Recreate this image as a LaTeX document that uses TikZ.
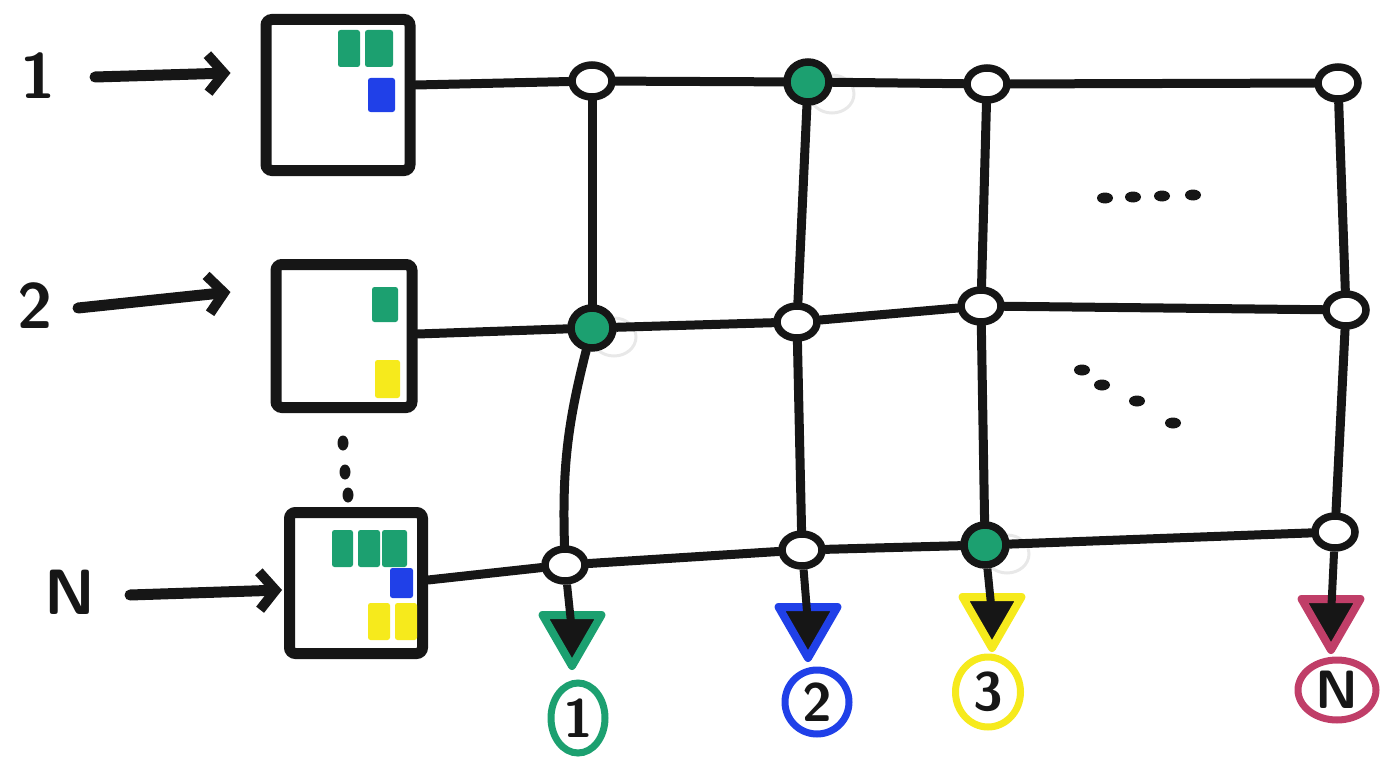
\documentclass[tikz,border=0pt]{standalone}
\usetikzlibrary{shapes.geometric,arrows.meta}
\definecolor{mkgreen}{RGB}{28,160,112}
\definecolor{mkblue}{RGB}{32,64,232}
\definecolor{mkyellow}{RGB}{246,234,28}
\definecolor{mkpink}{RGB}{192,62,104}
\definecolor{ink}{RGB}{22,22,22}
\begin{document}
\begin{tikzpicture}[x=1pt,y=-1pt,
  wire/.style={draw=ink, line width=9pt, line cap=round, line join=round},
  queue/.style={draw=ink, line width=11pt, rounded corners=6pt, fill=white, inner sep=0pt},
  xpt/.style={ellipse, draw=ink, line width=7.5pt, minimum width=40pt, minimum height=32pt, inner sep=0pt, fill=white},
  xon/.style={xpt, fill=mkgreen, minimum width=42pt, minimum height=40pt},
  halo/.style={ellipse, draw=black!9, line width=3pt, minimum width=44pt, minimum height=38pt},
  cell/.style={rounded corners=2.5pt},
  outtri/.style={regular polygon, regular polygon sides=3, shape border rotate=180, draw=#1, fill=ink, line width=8pt, line join=round, minimum size=68pt, inner sep=0pt},
  outnum/.style={ellipse, draw=#1, line width=7pt, inner sep=0pt, text=ink, font=\fontsize{54}{54}\selectfont\sffamily\bfseries},
  inlabel/.style={text=ink, font=\fontsize{64}{64}\selectfont\sffamily\bfseries},
  feed/.style={draw=ink, line width=11pt, line cap=round, -{Straight Barb[length=16pt,width=38pt,line width=10pt]}},
  stem/.style={draw=ink, line width=8pt},
  gapdot/.style={ellipse, fill=ink, minimum width=16pt, minimum height=11pt, inner sep=0pt}
]
\useasboundingbox (0,0) rectangle (1385,760);

% input queues
\node[queue, minimum width=144pt, minimum height=151pt] (box1) at (338,95) {};
\node[queue, minimum width=136pt, minimum height=143pt] (box2) at (344,336) {};
\node[queue, minimum width=133pt, minimum height=141pt] (boxN) at (356,583) {};

% queued packets
\fill[cell, mkgreen] (338,30) rectangle (360,67);
\fill[cell, mkgreen] (365,30) rectangle (393,67);
\fill[cell, mkblue] (368,78) rectangle (395,112);
\fill[cell, mkgreen] (372,287) rectangle (398,322);
\fill[cell, mkyellow] (375,360) rectangle (400,398);
\fill[cell, mkgreen] (332,530) rectangle (353,567);
\fill[cell, mkgreen] (358,530) rectangle (380,567);
\fill[cell, mkgreen] (382,530) rectangle (407,567);
\fill[cell, mkblue] (390,568) rectangle (413,598);
\fill[cell, mkyellow] (368,603) rectangle (390,640);
\fill[cell, mkyellow] (395,603) rectangle (417,640);

% input labels
\node[inlabel] (l1) at (38,76) {1};
\node[inlabel] (l2) at (35,306) {2};
\node[inlabel] (lN) at (70,592) {N};
\coordinate (a1) at (95,77);
\coordinate (a2) at (78,308);
\coordinate (aN) at (130,595);
\draw[feed] (a1) -- ([xshift=-30pt, yshift=22pt]box1.west);
\draw[feed] (a2) -- ([xshift=-40pt, yshift=44pt]box2.west);
\draw[feed] (aN) -- ([xshift=-2pt, yshift=-7pt]boxN.west);

% vertical ellipsis between queues
\node[gapdot, minimum width=11pt, minimum height=15pt] (v1) at (343,443) {};
\node[gapdot, minimum width=11pt, minimum height=15pt] (v2) at (345,472) {};
\node[gapdot, minimum width=11pt, minimum height=15pt] (v3) at (348,495) {};

% faint halos around active crosspoints
\node[halo] (h12) at (832,94) {};
\node[halo] (h21) at (614,337) {};
\node[halo] (h33) at (1007,554) {};

% crosspoints
\node[xpt] (c11) at (592,81) {};
\node[xon] (c12) at (808,82) {};
\node[xpt] (c13) at (987,84) {};
\node[xpt] (c1n) at (1338,83) {};
\node[xon] (c21) at (592,328) {};
\node[xpt] (c22) at (797,322) {};
\node[xpt] (c23) at (981,306) {};
\node[xpt] (c2n) at (1346,310) {};
\node[xpt] (c31) at (565,565) {};
\node[xpt] (c32) at (802,550) {};
\node[xon] (c33) at (985,545) {};
\node[xpt] (c3n) at (1335,532) {};

% rows
\draw[wire] ([yshift=10pt]box1.east) -- (c11) -- (c12) -- (c13) -- (c1n);
\draw[wire] ([yshift=2pt]box2.east) -- (c21) -- (c22) -- (c23) -- (c2n);
\draw[wire] ([yshift=3pt]boxN.east) -- (c31) -- (c32) -- (c33) -- (c3n);

% columns
\draw[wire] (c11) -- (c21);
\draw[wire] (c21) to[bend right=8] (c31);
\draw[wire] (c12) -- (c22) -- (c32);
\draw[wire] (c13) -- (c23) -- (c33);
\draw[wire] (c1n) -- (c2n) -- (c3n);

% outputs
\node[outtri=mkgreen] (t1) at (572,632) {};
\node[outtri=mkblue] (t2) at (808,624) {};
\node[outtri=mkyellow] (t3) at (992,614) {};
\node[outtri=mkpink] (tN) at (1331,616) {};
\draw[stem] (c31) -- (t1.center);
\draw[stem] (c32) -- (t2.center);
\draw[stem] (c33) -- (t3.center);
\draw[stem] (c3n) -- (tN.center);

\node[outnum=mkgreen, minimum width=54pt, minimum height=70pt] (o1) at (578,718) {1};
\node[outnum=mkblue, minimum width=64pt, minimum height=64pt] (o2) at (817,702) {2};
\node[outnum=mkyellow, minimum width=65pt, minimum height=70pt] (o3) at (988,692) {3};
\node[outnum=mkpink, minimum width=78pt, minimum height=60pt] (oN) at (1337,690) {N};

% ellipses in the grid
\node[gapdot] (e1) at (1105,198) {};
\node[gapdot] (e2) at (1133,197) {};
\node[gapdot] (e3) at (1162,196) {};
\node[gapdot] (e4) at (1193,195) {};
\node[gapdot] (d1) at (1082,370) {};
\node[gapdot] (d2) at (1102,385) {};
\node[gapdot] (d3) at (1137,401) {};
\node[gapdot] (d4) at (1173,423) {};
\end{tikzpicture}
\end{document}
